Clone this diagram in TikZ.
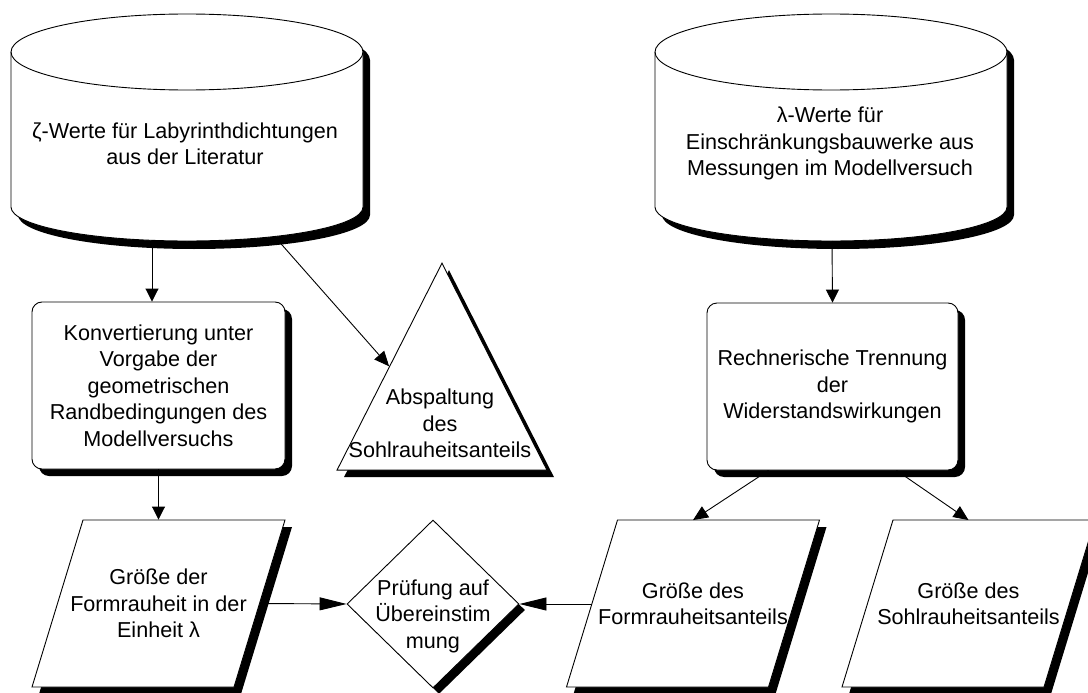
\documentclass[tikz,border=0pt]{standalone}
\usepackage{fontspec}
\setmainfont{Liberation Sans}
\usepackage{tikz}
\usetikzlibrary{calc,shapes.geometric,shadows,arrows.meta}

\begin{document}
\begin{tikzpicture}[
    x=1pt, y=1pt,
    line width=0.9pt,
    font=\fontsize{21.6}{26.5}\selectfont,
    shdw/.style={drop shadow={shadow xshift=7pt, shadow yshift=-7pt, opacity=1, fill=black}},
    proc/.style={draw, fill=white, rectangle, rounded corners=10pt, minimum width=253, minimum height=167, align=center, shdw},
    data/.style={rectangle, minimum width=253, minimum height=167, inner sep=0pt, align=center},
    check/.style={draw, fill=white, diamond, minimum width=172, minimum height=168, drop shadow={shadow xshift=6pt, shadow yshift=-6pt, opacity=1, fill=black}},
    tri/.style={draw, fill=white, isosceles triangle, shape border rotate=90, isosceles triangle stretches=true, minimum width=210, minimum height=207, inner sep=0pt, shdw},
    txt/.style={align=center},
    arr/.style={-{Triangle[length=13pt,width=13pt]}},
    arrlong/.style={-{Triangle[length=27pt,width=13pt]}},
    arrdiag/.style={-{Triangle[length=15pt,width=13pt]}}
]

    \clip (0,0) rectangle (1088,-693);

    % Cylinders (data sources)
    \foreach \cx in {187,831} {
        \begin{scope}[shift={(\cx,0)}]
            \draw[fill=white, preaction={fill=black, transform canvas={xshift=7pt, yshift=-8pt}}]
                (-176,-52) -- (-176,-207)
                arc[start angle=180, end angle=360, x radius=176, y radius=34]
                -- (176,-52)
                arc[start angle=0, end angle=180, x radius=176, y radius=38] -- cycle;
            \draw (-176,-52) arc[start angle=180, end angle=360, x radius=176, y radius=38];
        \end{scope}
    }
    \node[txt] (litL) at (185,-144) {ζ-Werte für Labyrinthdichtungen\\aus der Literatur};
    \node[txt] (litR) at (830,-143.5) {λ-Werte für\\Einschränkungsbauwerke aus\\Messungen im Modellversuch};

    % Process boxes
    \node[proc] (konv) at (158.5,-385.5) {Konvertierung unter\\Vorgabe der\\geometrischen\\Randbedingungen des\\Modellversuchs};
    \node[proc, minimum width=251] (trenn) at (832.5,-386.5) {Rechnerische Trennung\\der\\Widerstandswirkungen};

    % Triangle
    \node[tri, anchor=apex] (absp) at (442,-262) {};
    \node[txt] (abspT) at (440,-423.5) {Abspaltung\\des\\Sohlrauheitsanteils};

    % Results (parallelograms, slant 51)
    \foreach \px in {158.5,693,968.5} {
        \draw[fill=white, preaction={fill=black, transform canvas={xshift=7pt, yshift=-7pt}}]
            (\px-126.5,-687) -- (\px-75.5,-520) -- (\px+126.5,-520) -- (\px+75.5,-687) -- cycle;
    }
    \node[data] (groL) at (158.5,-603.5) {Größe der\\Formrauheit in der\\Einheit λ};
    \node[data] (groF) at (693,-604) {Größe des\\Formrauheitsanteils};
    \node[data] (groS) at (968.5,-604) {Größe des\\Sohlrauheitsanteils};

    % Check
    \node[check] (pruef) at (433,-604) {};
    \node[txt] (pruefT) at (433,-616) {Prüfung auf\\Übereinstim\\mung};

    % Arrows
    \coordinate (litLdn) at (152,-241);
    \coordinate (litLout) at (275,-237);
    \coordinate (litRdn) at (832,-241);
    \draw[arr] (litLdn) -- (litLdn |- konv.north);
    \draw[arrdiag] (litLout) -- (absp.left side);
    \draw[arr] (konv.south) -- (groL.north);
    \draw[arrlong] ($(groL.east)+(-25.5,0)$) -- (pruef.west);
    \draw[arr] (litRdn) -- (trenn.north);
    \draw[arrdiag] ($(trenn.south)+(-64,0)$) -- (groF.north);
    \draw[arrdiag] ($(trenn.south)+(64,0)$) -- (groS.north);
    \draw[arrlong] ($(groF.west)+(25.5,0)$) -- (pruef.east);

\end{tikzpicture}
\end{document}
